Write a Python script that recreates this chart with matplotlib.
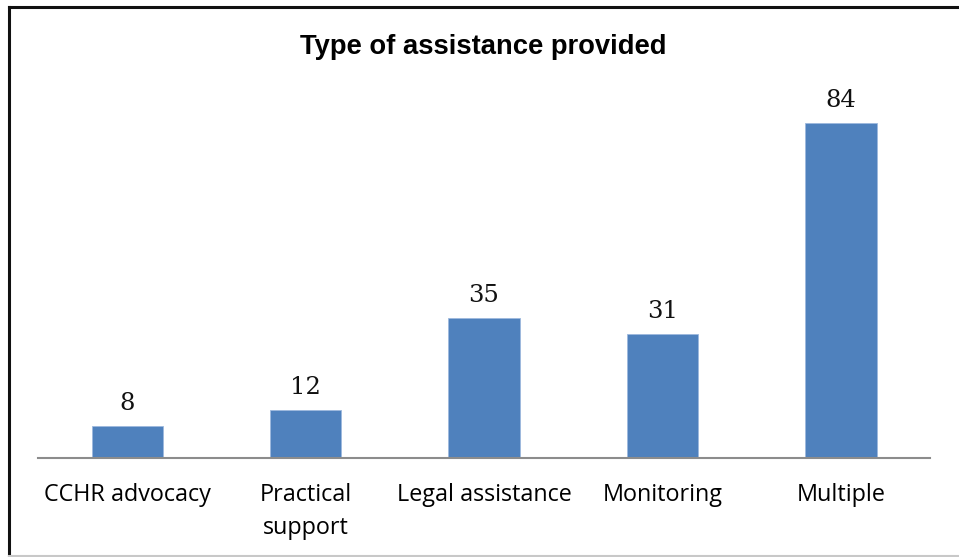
import matplotlib.pyplot as plt
from matplotlib.lines import Line2D

categories = ['CCHR advocacy', 'Practical\nsupport', 'Legal assistance', 'Monitoring', 'Multiple']
counts = [8, 12, 35, 31, 84]

bar_color = '#4F81BD'

fig = plt.figure(figsize=(9.59, 5.57), dpi=100)
ax = fig.add_axes([0.0396, 0.1786, 0.9302, 0.6427])

x = range(len(categories))
bars = ax.bar(x, counts, width=0.4, color=bar_color, edgecolor='#9DB9DE', linewidth=0.6)

for rect, val in zip(bars, counts):
    ax.annotate(str(val), (rect.get_x() + rect.get_width() / 2, rect.get_height()),
                xytext=(0, 8), textcoords='offset points', ha='center', va='bottom',
                fontsize=17.5, family='DejaVu Serif', color='#111111', annotation_clip=False)

ax.set_xlim(-0.5, len(categories) - 0.5)
ax.set_ylim(0, 90)
ax.set_xticks(list(x))
ax.set_xticklabels(categories, fontsize=16.8, family='Open Sans', linespacing=1.5)
ax.tick_params(axis='x', length=0, pad=18.5)
ax.set_yticks([])
for side in ['top', 'right', 'left']:
    ax.spines[side].set_visible(False)
ax.spines['bottom'].set_color('#8C8C8C')
ax.spines['bottom'].set_linewidth(1.5)

fig.text(0.504, 0.9156, 'Type of assistance provided', ha='center', va='center',
         fontsize=19.7, fontweight='bold', family='Liberation Sans')

# outer chart frame
fig.add_artist(Line2D([8.5 / 959, 1.0], [1 - 6.5 / 557] * 2, color='#111111', lw=2.2,
                      transform=fig.transFigure))
fig.add_artist(Line2D([8.5 / 959] * 2, [1 - 6.5 / 557, 1 - 556 / 557], color='#111111', lw=2.2,
                      transform=fig.transFigure))
fig.add_artist(Line2D([8.5 / 959, 1.0], [1 - 555.5 / 557] * 2, color='#C8C8C8', lw=1.5,
                      transform=fig.transFigure))

fig.savefig('out.png', dpi=100)
